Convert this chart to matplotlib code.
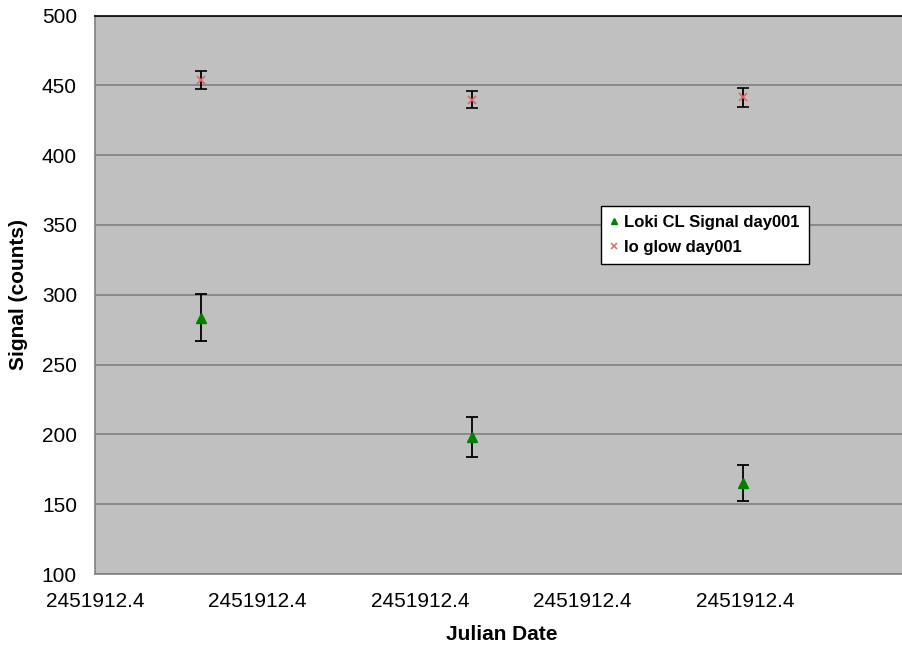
import matplotlib
matplotlib.use('Agg')
from matplotlib import pyplot as plt
from matplotlib.lines import Line2D
from matplotlib.ticker import FormatStrFormatter, MultipleLocator

plt.rcParams['font.family'] = ['Liberation Sans', 'DejaVu Sans']

# julian dates of the three exposures
julian = [2451912.37652, 2451912.39317, 2451912.40988]

loki_signal = [283.5, 198.0, 165.0]
loki_err = [16.8, 14.2, 12.9]

io_glow = [454.0, 439.7, 441.3]
io_err = [6.3, 6.1, 7.0]

x_min = 2451912.37
x_step = 0.01

fig = plt.figure(figsize=(9.02, 6.5), dpi=100)
ax = fig.add_axes([95 / 902, 1 - 574 / 650, 812.5 / 902, (574 - 15.5) / 650])
ax.set_facecolor('#c0c0c0')

ax.errorbar(julian, loki_signal, yerr=loki_err, fmt='^', color='#008000',
            markersize=6.5, ecolor='black', elinewidth=1.3, capsize=4.2, capthick=1.3,
            zorder=3)
ax.errorbar(julian, io_glow, yerr=io_err, fmt='x', color='#e06666',
            markersize=6, markeredgewidth=1.2, ecolor='black', elinewidth=1.3,
            capsize=4.2, capthick=1.3, zorder=3)

ax.set_xlim(x_min, x_min + 5 * x_step)
ax.set_ylim(100, 500)
ax.set_xticks([x_min + i * x_step for i in range(5)])
ax.xaxis.set_major_formatter(FormatStrFormatter('%.1f'))
ax.yaxis.set_major_locator(MultipleLocator(50))

ax.grid(axis='y', color='#808080', linewidth=1.2)
ax.set_axisbelow(True)
ax.tick_params(length=0, labelsize=15, pad=13)

for side in ['left', 'bottom', 'right']:
    ax.spines[side].set_color('#808080')
    ax.spines[side].set_linewidth(1.2)
ax.spines['top'].set_color('black')
ax.spines['top'].set_linewidth(1.2)

ax.set_xlabel('Julian Date', fontsize=15, fontweight='bold', labelpad=10)
ax.set_ylabel('Signal (counts)', fontsize=15, fontweight='bold')
ax.yaxis.set_label_coords((28 - 95) / 812.5, 0.5)

handles = [
    Line2D([], [], marker='^', linestyle='none', color='#008000', markersize=5),
    Line2D([], [], marker='x', linestyle='none', color='#e06666', markersize=5,
           markeredgewidth=1.1),
]
labels = ['Loki CL Signal day001', 'Io glow day001']
leg = ax.legend(handles, labels, loc='upper left',
                bbox_to_anchor=(601 / 902, 1 - 206 / 650),
                bbox_transform=fig.transFigure, frameon=True, fancybox=False,
                edgecolor='black', framealpha=1,
                prop={'weight': 'bold', 'size': 12}, handlelength=0.5,
                handletextpad=0.35, borderpad=0.55, labelspacing=0.6,
                borderaxespad=0)
leg.get_frame().set_linewidth(1.0)

fig.savefig('out.png', dpi=100)
